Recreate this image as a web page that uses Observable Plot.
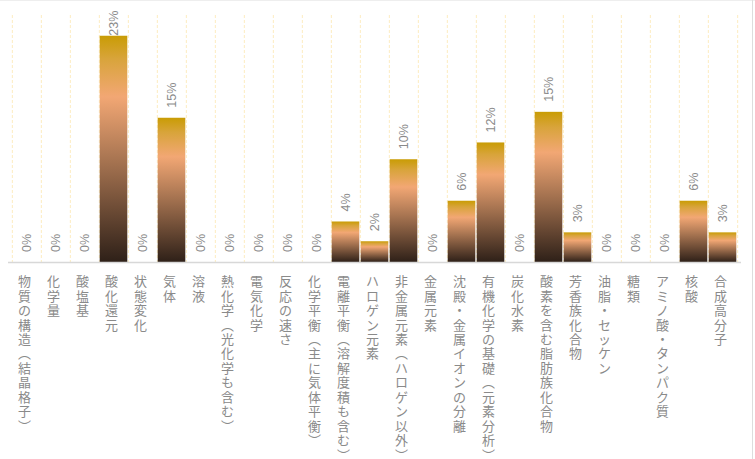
<!DOCTYPE html>
<html><head><meta charset="utf-8">
<script src="https://cdn.jsdelivr.net/npm/d3@7"></script>
<script src="https://cdn.jsdelivr.net/npm/@observablehq/plot@0.6"></script>
<style>
body{margin:0;background:#fff;overflow:hidden;}
#wrap{position:relative;width:755px;height:459px;overflow:hidden;}
#top{position:absolute;left:0;top:0;width:755px;height:1px;background:#eeeeee;}
#right{position:absolute;left:752px;top:0;width:1px;height:459px;background:#dddddd;}
</style></head>
<body><div id="wrap"><div id="top"></div><div id="right"></div></div>
<script>
const categories = ["物質の構造（結晶格子）","化学量","酸塩基","酸化還元","状態変化","気体","溶液","熱化学（光化学も含む）","電気化学","反応の速さ","化学平衡（主に気体平衡）","電離平衡（溶解度積も含む）","ハロゲン元素","非金属元素（ハロゲン以外）","金属元素","沈殿・金属イオンの分離","有機化学の基礎（元素分析）","炭化水素","酸素を含む脂肪族化合物","芳香族化合物","油脂・セッケン","糖類","アミノ酸・タンパク質","核酸","合成高分子"];
const values = [0,0,0,22.9,0,14.6,0,0,0,0,0,4.1,2.1,10.4,0,6.2,12.1,0,15.2,3.0,0,0,0,6.2,3.0];

const data = categories.map((c,i)=>({cat:c, v:values[i]}));
const W = 755, H = 459, mL = 8, mR = 14, mT = 15, mB = 197;
const step = (W - mL - mR) / categories.length;

// vertical label glyphs: one row of characters per position down the label
const vert = {"（":"︵","）":"︶"};
const chars = categories.map(c => Array.from(c).map(ch => vert[ch] || ch));
const maxLen = d3.max(chars, a => a.length);
const pitch = 14.45, firstOffset = 19.5;
const charMarks = d3.range(maxLen).map(i =>
  Plot.text(categories.filter((c,k) => chars[k].length > i), {
    x: d => d,
    frameAnchor: "bottom",
    text: d => chars[categories.indexOf(d)][i],
    dy: firstOffset + i * pitch,
    dx: -2.5,
    textAnchor: "middle",
    lineAnchor: "middle",
    fill: "#8a8a8a",
    fontSize: 13,
    fontFamily: "Noto Sans CJK JP, sans-serif"
  })
);

const svg = Plot.plot({
  width: W, height: H,
  marginLeft: mL, marginRight: mR, marginTop: mT, marginBottom: mB,
  x: {domain: categories, padding: 0, axis: null},
  y: {domain: [0, 25], axis: null},
  marks: [
    Plot.ruleX(categories, {x: d=>d, dx: -step/2, stroke: "#fdecc0", strokeDasharray: "3,2", strokeWidth: 1}),
    Plot.ruleX(categories.slice(-1), {x: d=>d, dx: step/2, stroke: "#fdecc0", strokeDasharray: "3,2", strokeWidth: 1}),
    Plot.barY(data, {x: "cat", y: "v", fill: "url(#barGrad)", insetLeft: 0.7, insetRight: 0.7}),
    Plot.ruleY([0], {stroke: "#d8d8d8", strokeWidth: 1.5}),
    Plot.text(data, {x: "cat", y: d=>Math.min(d.v, 21.9), text: d=>Math.round(d.v)+"%", rotate: -90, textAnchor: "start", dy: -10.5, fill: "#8a8a8a", fontSize: 12.5, fontFamily: "Liberation Sans, Arial, sans-serif"}),
    ...charMarks
  ]
});

const ns = "http://www.w3.org/2000/svg";
const defs = document.createElementNS(ns, "defs");
const lg = document.createElementNS(ns, "linearGradient");
lg.setAttribute("id", "barGrad");
lg.setAttribute("x1", "0"); lg.setAttribute("y1", "0");
lg.setAttribute("x2", "0"); lg.setAttribute("y2", "1");
[["0","#c99c04"],["0.1","#d8a43a"],["0.27","#f2a774"],["0.55","#a77451"],["1","#2e2018"]].forEach(([o,c])=>{
  const s = document.createElementNS(ns, "stop");
  s.setAttribute("offset", o); s.setAttribute("stop-color", c);
  lg.appendChild(s);
});
defs.appendChild(lg);
svg.insertBefore(defs, svg.firstChild);

document.getElementById("wrap").appendChild(svg);
svg.style.position = "absolute";
svg.style.left = "0"; svg.style.top = "0";
</script>
</body></html>
